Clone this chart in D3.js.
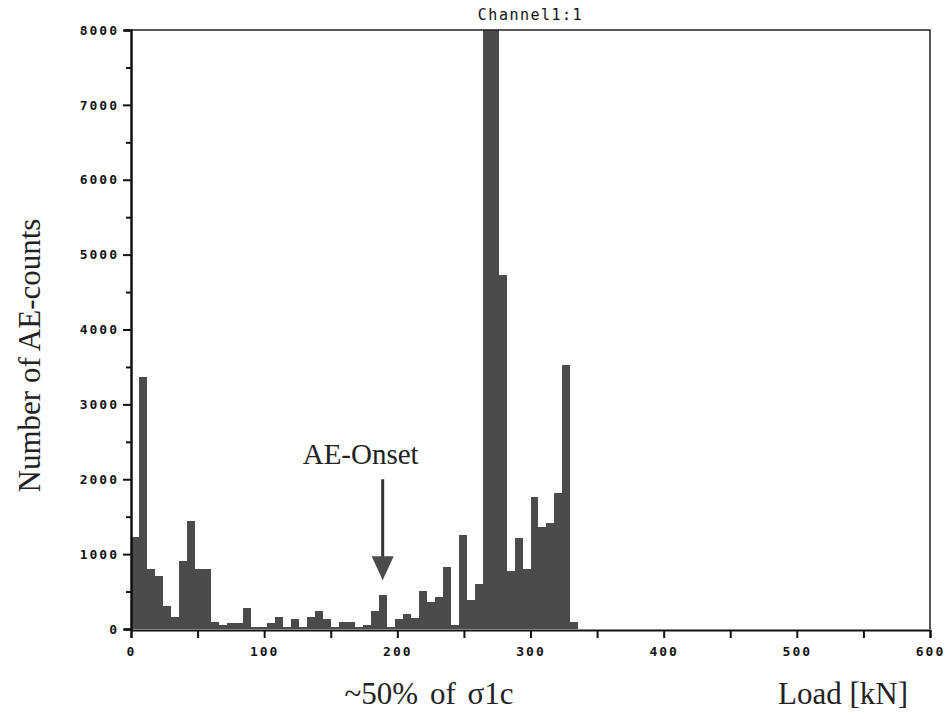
<!DOCTYPE html>
<html>
<head>
<meta charset="utf-8">
<script src="https://cdn.jsdelivr.net/npm/d3@7"></script>
<style>
  body { margin: 0; background: #fff; }
  .axis text { font-family: "DejaVu Sans Mono", monospace; font-weight: bold; fill: #111; }
  .label { font-family: "Liberation Serif", "Times New Roman", serif; fill: #222; }
</style>
</head>
<body>
<div id="chart"></div>
<script>
// histogram of AE counts per load class (6 kN per class, starting at 0 kN)
var binWidth = 6;
var counts = [1230, 3370, 800, 710, 305, 165, 910, 1440, 800, 800,
  100, 50, 85, 85, 275, 30, 30, 85, 165, 30,
  135, 30, 155, 240, 135, 30, 98, 98, 30, 60,
  240, 450, 30, 130, 205, 150, 505, 365, 428, 830,
  50, 1250, 390, 605, 8000, 8000, 4730, 770, 1220, 800,
  1760, 1360, 1420, 1820, 3520, 100];

var xTicks = [0, 50, 100, 150, 200, 250, 300, 350, 400, 450, 500, 550, 600];
var yTicks = [0, 500, 1000, 1500, 2000, 2500, 3000, 3500, 4000, 4500, 5000, 5500, 6000, 6500, 7000, 7500, 8000];
var onsetLoad = 189; // AE-Onset marker

var total_width = 948,
    total_height = 719;

var margin = {top: 30, right: 18, bottom: 90, left: 131},
    width = total_width - margin.left - margin.right,
    height = total_height - margin.top - margin.bottom;

var svg = d3.select("#chart").append("svg")
    .attr("width", total_width)
    .attr("height", total_height)
    .style("background", "#fff");

var g = svg.append("g")
    .attr("transform", "translate(" + margin.left + "," + margin.top + ")");

var x = d3.scaleLinear().domain([0, 600]).range([0, width]);
var y = d3.scaleLinear().domain([0, 8000]).range([height, 0]);

var bins = counts.map(function (c, i) { return {x0: i * binWidth, x1: (i + 1) * binWidth, n: c}; });

// bars
g.append("g")
  .selectAll("rect")
  .data(bins)
  .enter()
  .append("rect")
    .attr("x", function (d) { return x(d.x0); })
    .attr("width", function (d) { return x(d.x1) - x(d.x0); })
    .attr("y", function (d) { return y(Math.min(d.n, 8000)); })
    .attr("height", function (d) { return height - y(Math.min(d.n, 8000)); })
    .attr("fill", "#4b4b4b")
    .attr("shape-rendering", "crispEdges");

// frame (top and right)
g.append("path")
    .attr("d", "M0,0 H" + width + " V" + height)
    .attr("fill", "none")
    .attr("stroke", "#222")
    .attr("stroke-width", 1.5);

// x axis
var xAxis = g.append("g")
    .attr("class", "axis")
    .attr("transform", "translate(0," + (height + 1) + ")")
    .call(d3.axisBottom(x).tickValues(xTicks).tickSize(8).tickPadding(9)
      .tickFormat(function (d) { return d % 100 === 0 ? d : ""; }));
xAxis.select(".domain").attr("stroke", "#111").attr("stroke-width", 2);
xAxis.selectAll(".tick line").attr("stroke", "#111").attr("stroke-width", 2);
xAxis.selectAll(".tick text").style("font-size", "13px").style("letter-spacing", "2px");

// y axis
var yAxis = g.append("g")
    .attr("class", "axis")
    .call(d3.axisLeft(y).tickValues(yTicks).tickSize(7).tickPadding(5)
      .tickFormat(function (d) { return d % 1000 === 0 ? d : ""; }));
yAxis.select(".domain").attr("stroke", "#111").attr("stroke-width", 2.5);
yAxis.selectAll(".tick line")
    .attr("stroke", "#111")
    .attr("stroke-width", 2)
    .attr("x2", function (d) { return d % 1000 === 0 ? -8 : -5; });
yAxis.selectAll(".tick text").style("font-size", "13px").style("letter-spacing", "2px");

// title
svg.append("text")
    .attr("x", margin.left + width / 2)
    .attr("y", 20)
    .attr("text-anchor", "middle")
    .style("font-family", "'DejaVu Sans Mono', monospace")
    .style("font-size", "15px")
    .style("letter-spacing", "1.5px")
    .attr("fill", "#111")
    .text("Channel1:1");

// labels
svg.append("text")
    .attr("class", "label")
    .attr("transform", "translate(40," + (margin.top + height / 2 + 26) + ") rotate(-90)")
    .attr("text-anchor", "middle")
    .style("font-size", "31px")
    .text("Number of AE-counts");

svg.append("text")
    .attr("class", "label")
    .attr("x", 429)
    .attr("y", 704)
    .attr("text-anchor", "middle")
    .style("font-size", "31px")
    .style("word-spacing", "4px")
    .text("~50% of σ1c");

svg.append("text")
    .attr("class", "label")
    .attr("x", 908)
    .attr("y", 704)
    .attr("text-anchor", "end")
    .style("font-size", "31px")
    .text("Load [kN]");

// AE-Onset annotation
var ax = x(onsetLoad);
g.append("text")
    .attr("class", "label")
    .attr("x", ax - 22)
    .attr("y", y(2500) + 22)
    .attr("text-anchor", "middle")
    .style("font-size", "29px")
    .text("AE-Onset");

g.append("line")
    .attr("x1", ax).attr("x2", ax)
    .attr("y1", y(2000)).attr("y2", y(1000) + 4)
    .attr("stroke", "#333")
    .attr("stroke-width", 3);

g.append("path")
    .attr("transform", "translate(" + ax + "," + (y(1000) + 2) + ")")
    .attr("d", "M -11 0 L 11 0 L 0 24 Z")
    .attr("fill", "#4b4b4b");
</script>
</body>
</html>
